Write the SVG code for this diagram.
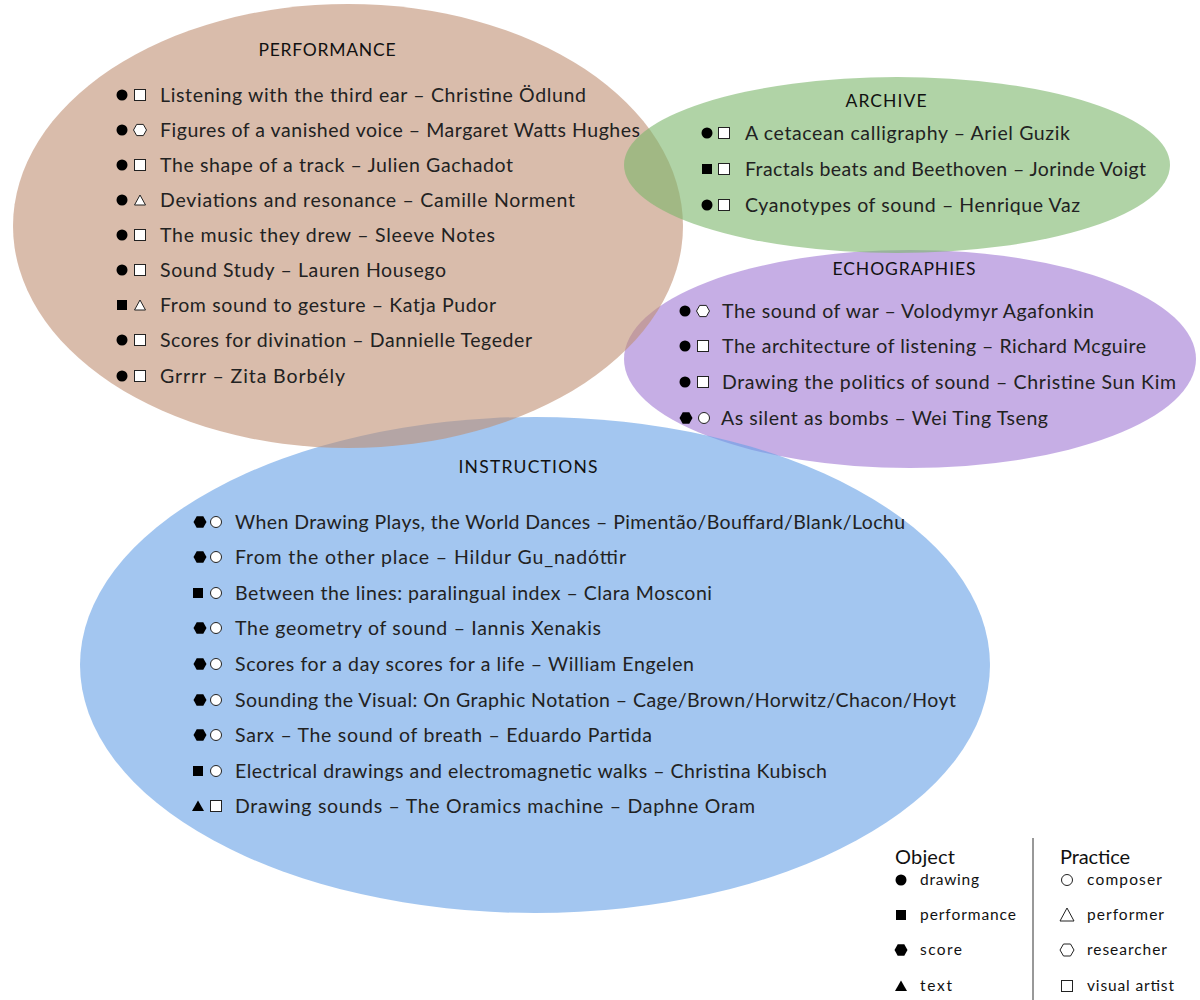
<svg xmlns="http://www.w3.org/2000/svg" xmlns:xlink="http://www.w3.org/1999/xlink" width="1200" height="1000" viewBox="0 0 1200 1000">
<style>
.t{font-family:Lato,"Open Sans","Liberation Sans",sans-serif;font-size:19.5px;fill:#222;}
.h{font-family:Lato,"Open Sans","Liberation Sans",sans-serif;font-size:17.5px;fill:#111;}
.lh{font-family:Lato,"Open Sans","Liberation Sans",sans-serif;font-size:20px;fill:#111;}
.lt{font-family:Lato,"Open Sans","Liberation Sans",sans-serif;font-size:15.5px;fill:#111;}
.w{fill:#fff;stroke:#222;stroke-width:1;}
.b{fill:#000;}
</style>
<defs>
<circle id="dot" r="5.5" class="b"/>
<rect id="fsq" x="-5" y="-5" width="10" height="10" class="b"/>
<polygon id="fhex" points="-6.5,0 -3.3,-5.8 3.3,-5.8 6.5,0 3.3,5.8 -3.3,5.8" class="b"/>
<polygon id="ftri" points="0,-5.5 6,5 -6,5" class="b"/>
<rect id="wsq" x="-5.5" y="-5.5" width="11" height="11" class="w"/>
<polygon id="wtri" points="0,-5 5.5,5 -5.5,5" class="w"/>
<polygon id="whex" points="-6.5,0 -3.3,-5.6 3.3,-5.6 6.5,0 3.3,5.6 -3.3,5.6" class="w"/>
<circle id="wcir" r="5.5" class="w"/>
</defs>
<rect width="1200" height="1000" fill="#fff"/>
<g id="sets">
<ellipse id="set-echographies" cx="910" cy="359" rx="286" ry="109" fill="#a078d4" fill-opacity="0.6"/>
<ellipse id="set-instructions" cx="535" cy="665" rx="455" ry="248" fill="#66a0e6" fill-opacity="0.6"/>
<ellipse id="set-performance" cx="348" cy="226" rx="335" ry="222" fill="#c08f73" fill-opacity="0.6"/>
<ellipse id="set-archive" cx="897" cy="165" rx="273" ry="88" fill="#7bb66b" fill-opacity="0.6"/>
</g>
<g id="connectors"></g>

<g id="performance">
<text class="h" x="327" y="56" text-anchor="middle" textLength="137">PERFORMANCE</text>
<g id="p1"><use href="#dot" x="122" y="95"/><use href="#wsq" x="140" y="95"/><text class="t" x="160" y="102" textLength="426">Listening with the third ear – Christine Ödlund</text></g>
<g id="p2"><use href="#dot" x="122" y="130"/><use href="#whex" x="140" y="130"/><text class="t" x="160" y="137" textLength="480">Figures of a vanished voice – Margaret Watts Hughes</text></g>
<g id="p3"><use href="#dot" x="122" y="165"/><use href="#wsq" x="140" y="165"/><text class="t" x="160" y="172" textLength="353">The shape of a track – Julien Gachadot</text></g>
<g id="p4"><use href="#dot" x="122" y="200"/><use href="#wtri" x="140" y="200"/><text class="t" x="160" y="207" textLength="415">Deviations and resonance – Camille Norment</text></g>
<g id="p5"><use href="#dot" x="122" y="235"/><use href="#wsq" x="140" y="235"/><text class="t" x="160" y="242" textLength="335">The music they drew – Sleeve Notes</text></g>
<g id="p6"><use href="#dot" x="122" y="270"/><use href="#wsq" x="140" y="270"/><text class="t" x="160" y="277" textLength="286">Sound Study – Lauren Housego</text></g>
<g id="p7"><use href="#fsq" x="122" y="305"/><use href="#wtri" x="140" y="305"/><text class="t" x="160" y="312" textLength="336">From sound to gesture – Katja Pudor</text></g>
<g id="p8"><use href="#dot" x="122" y="340"/><use href="#wsq" x="140" y="340"/><text class="t" x="160" y="347" textLength="372">Scores for divination – Dannielle Tegeder</text></g>
<g id="p9"><use href="#dot" x="122" y="376"/><use href="#wsq" x="140" y="376"/><text class="t" x="160" y="383" textLength="185">Grrrr – Zita Borbély</text></g>
</g>

<g id="archive">
<text class="h" x="886" y="107" text-anchor="middle" textLength="81">ARCHIVE</text>
<g id="a1"><use href="#dot" x="707" y="133"/><use href="#wsq" x="724" y="133"/><text class="t" x="745" y="140" textLength="325">A cetacean calligraphy – Ariel Guzik</text></g>
<g id="a2"><use href="#fsq" x="707" y="169"/><use href="#wsq" x="724" y="169"/><text class="t" x="745" y="176" textLength="401">Fractals beats and Beethoven – Jorinde Voigt</text></g>
<g id="a3"><use href="#dot" x="707" y="205"/><use href="#wsq" x="724" y="205"/><text class="t" x="745" y="212" textLength="335">Cyanotypes of sound – Henrique Vaz</text></g>
</g>

<g id="echographies">
<text class="h" x="904" y="275" text-anchor="middle" textLength="143">ECHOGRAPHIES</text>
<g id="e1"><use href="#dot" x="685" y="311"/><use href="#whex" x="703" y="311"/><text class="t" x="722" y="318" textLength="372">The sound of war – Volodymyr Agafonkin</text></g>
<g id="e2"><use href="#dot" x="685" y="346"/><use href="#wsq" x="703" y="346"/><text class="t" x="722" y="353" textLength="424">The architecture of listening – Richard Mcguire</text></g>
<g id="e3"><use href="#dot" x="685" y="382"/><use href="#wsq" x="703" y="382"/><text class="t" x="722" y="389" textLength="454">Drawing the politics of sound – Christine Sun Kim</text></g>
<g id="e4"><use href="#fhex" x="686" y="418"/><use href="#wcir" x="704" y="418"/><text class="t" x="721" y="425" textLength="327">As silent as bombs – Wei Ting Tseng</text></g>
</g>

<g id="instructions">
<text class="h" x="528" y="473" text-anchor="middle" textLength="139">INSTRUCTIONS</text>
<g id="i1"><use href="#fhex" x="200" y="522"/><use href="#wcir" x="216" y="522"/><text class="t" x="235" y="529" textLength="670">When Drawing Plays, the World Dances – Pimentão/Bouffard/Blank/Lochu</text></g>
<g id="i2"><use href="#fhex" x="200" y="557"/><use href="#wcir" x="216" y="557"/><text class="t" x="235" y="564" textLength="391">From the other place – Hildur Gu_nadóttir</text></g>
<g id="i3"><use href="#fsq" x="198" y="593"/><use href="#wcir" x="216" y="593"/><text class="t" x="235" y="600" textLength="477">Between the lines: paralingual index – Clara Mosconi</text></g>
<g id="i4"><use href="#fhex" x="200" y="628"/><use href="#wcir" x="216" y="628"/><text class="t" x="235" y="635" textLength="366">The geometry of sound – Iannis Xenakis</text></g>
<g id="i5"><use href="#fhex" x="200" y="664"/><use href="#wcir" x="216" y="664"/><text class="t" x="235" y="671" textLength="459">Scores for a day scores for a life – William Engelen</text></g>
<g id="i6"><use href="#fhex" x="200" y="700"/><use href="#wcir" x="216" y="700"/><text class="t" x="235" y="707" textLength="721">Sounding the Visual: On Graphic Notation – Cage/Brown/Horwitz/Chacon/Hoyt</text></g>
<g id="i7"><use href="#fhex" x="200" y="735"/><use href="#wcir" x="216" y="735"/><text class="t" x="235" y="742" textLength="417">Sarx – The sound of breath – Eduardo Partida</text></g>
<g id="i8"><use href="#fsq" x="198" y="771"/><use href="#wcir" x="216" y="771"/><text class="t" x="235" y="778" textLength="592">Electrical drawings and electromagnetic walks – Christina Kubisch</text></g>
<g id="i9"><use href="#ftri" x="198" y="806"/><use href="#wsq" x="216" y="806"/><text class="t" x="235" y="813" textLength="520">Drawing sounds – The Oramics machine – Daphne Oram</text></g>
</g>

<g id="legend">
<line x1="1033" y1="838" x2="1033" y2="1000" stroke="#333" stroke-width="1"/>
<text class="lh" x="895" y="864" textLength="60">Object</text>
<text class="lh" x="1060" y="864" textLength="70">Practice</text>
<use href="#dot" x="901" y="880"/><text class="lt" x="920" y="885" textLength="59">drawing</text>
<use href="#fsq" x="901" y="915"/><text class="lt" x="920" y="920" textLength="96">performance</text>
<use href="#fhex" x="901" y="950"/><text class="lt" x="920" y="955" textLength="42">score</text>
<use href="#ftri" x="901" y="986"/><text class="lt" x="920" y="991" textLength="32">text</text>
<use href="#wcir" x="1067" y="880"/><text class="lt" x="1087" y="885" textLength="75">composer</text>
<polygon points="1067,908 1074,921 1060,921" class="w"/><text class="lt" x="1087" y="920" textLength="77">performer</text>
<polygon points="1060,950 1063.5,944 1070.5,944 1074,950 1070.5,956 1063.5,956" class="w"/><text class="lt" x="1087" y="955" textLength="80">researcher</text>
<use href="#wsq" x="1067" y="986"/><text class="lt" x="1087" y="991" textLength="87">visual artist</text>
</g>
</svg>
